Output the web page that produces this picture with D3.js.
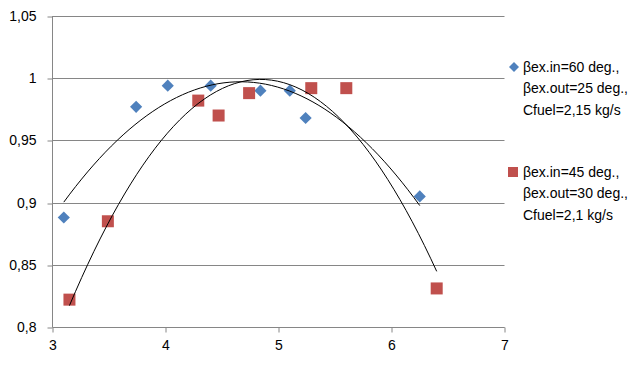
<!DOCTYPE html>
<html><head><meta charset="utf-8">
<script src="https://cdn.jsdelivr.net/npm/d3@7"></script>
<style>body{margin:0;background:#fff}svg{display:block}</style>
</head><body>
<svg id="c" width="644" height="367"></svg>
<script>
const xTicks = [3, 4, 5, 6, 7];
const yTicks = [0.8, 0.85, 0.9, 0.95, 1, 1.05];
const yTickLabels = ["0,8", "0,85", "0,9", "0,95", "1", "1,05"];

const s1x = [3.10, 3.74, 4.02, 4.40, 4.84, 5.10, 5.24, 6.25];
const s1y = [0.888, 0.977, 0.994, 0.994, 0.990, 0.990, 0.968, 0.905];
const s2x = [3.15, 3.49, 4.29, 4.47, 4.74, 5.29, 5.60, 6.40];
const s2y = [0.822, 0.885, 0.982, 0.970, 0.988, 0.992, 0.992, 0.831];

const legend1 = ["βex.in=60 deg.,", "βex.out=25 deg.,", "Cfuel=2,15 kg/s"];
const legend2 = ["βex.in=45 deg.,", "βex.out=30 deg.,", "Cfuel=2,1 kg/s"];

const blue = "#4F81BD", red = "#C0504D", grid = "#868686";
const font = "'Liberation Sans', Arial, sans-serif";

const svg = d3.select("#c");
const x = d3.scaleLinear().domain([3, 7]).range([52.5, 504.5]);
const y = d3.scaleLinear().domain([0.8, 1.05]).range([327, 16]);

// gridlines
svg.append("g").selectAll("line").data(yTicks).join("line")
  .attr("x1", x(3)).attr("x2", x(7))
  .attr("y1", d => Math.round(y(d)) + 0.5).attr("y2", d => Math.round(y(d)) + 0.5)
  .attr("stroke", grid).attr("stroke-width", 1);

// y axis
const ya = svg.append("g").attr("transform", `translate(${x(3)},0)`);
ya.call(d3.axisLeft(y).tickValues(yTicks).tickFormat((d, i) => yTickLabels[i]).tickSize(5).tickPadding(11));
ya.select(".domain").attr("stroke", grid).attr("d", `M0,${y(1.05)}V${y(0.8)}`);
ya.selectAll(".tick line").attr("stroke", grid).attr("transform", d => `translate(0,${Math.round(y(d)) + 0.5 - y(d)})`);
ya.selectAll(".tick text").attr("font-family", font).attr("font-size", 14).attr("fill", "#000");

// x axis
const xa = svg.append("g").attr("transform", `translate(0,${Math.round(y(0.8)) + 0.5})`);
xa.call(d3.axisBottom(x).tickValues(xTicks).tickFormat(d3.format("d")).tickSize(5).tickPadding(8));
xa.select(".domain").attr("stroke", grid).attr("d", `M${x(3)},0H${x(7)}`);
xa.selectAll(".tick line").attr("stroke", grid);
xa.selectAll(".tick text").attr("font-family", font).attr("font-size", 14).attr("fill", "#000");

// quadratic least squares fit (trendline)
function quadFit(xs, ys) {
  const n = xs.length;
  let S = [0,0,0,0,0], T = [0,0,0];
  for (let i = 0; i < n; i++) {
    for (let k = 0; k < 5; k++) S[k] += Math.pow(xs[i], k);
    for (let k = 0; k < 3; k++) T[k] += ys[i] * Math.pow(xs[i], k);
  }
  const A = [[S[0],S[1],S[2],T[0]],[S[1],S[2],S[3],T[1]],[S[2],S[3],S[4],T[2]]];
  for (let c = 0; c < 3; c++) {
    for (let r = c + 1; r < 3; r++) {
      const f = A[r][c] / A[c][c];
      for (let k = c; k < 4; k++) A[r][k] -= f * A[c][k];
    }
  }
  const b = [0,0,0];
  for (let r = 2; r >= 0; r--) {
    let s = A[r][3];
    for (let k = r + 1; k < 3; k++) s -= A[r][k] * b[k];
    b[r] = s / A[r][r];
  }
  return v => b[0] + b[1] * v + b[2] * v * v;
}

function trend(xs, ys) {
  const f = quadFit(xs, ys);
  const lo = d3.min(xs), hi = d3.max(xs);
  const pts = d3.range(0, 61).map(i => { const v = lo + (hi - lo) * i / 60; return [v, f(v)]; });
  svg.append("path").datum(pts)
    .attr("d", d3.line().x(d => x(d[0])).y(d => y(d[1])))
    .attr("fill", "none").attr("stroke", "#000").attr("stroke-width", 1);
}

// markers
const diamond = d3.symbol().type(d3.symbolSquare).size(74);
svg.append("g").selectAll("path").data(s1x.map((v, i) => [v, s1y[i]])).join("path")
  .attr("d", diamond)
  .attr("transform", d => `translate(${x(d[0])},${y(d[1])}) rotate(45)`)
  .attr("fill", blue);
svg.append("g").selectAll("rect").data(s2x.map((v, i) => [v, s2y[i]])).join("rect")
  .attr("x", d => x(d[0]) - 6).attr("y", d => y(d[1]) - 6)
  .attr("width", 12).attr("height", 12).attr("fill", red);

trend(s1x, s1y);
trend(s2x, s2y);

// legend
function legendBlock(lines, y0, kind, color) {
  const g = svg.append("g");
  if (kind === "diamond") {
    g.append("path").attr("d", d3.symbol().type(d3.symbolSquare).size(50))
      .attr("transform", `translate(514,${y0}) rotate(45)`).attr("fill", color);
  } else {
    g.append("rect").attr("x", 508).attr("y", y0 - 5).attr("width", 10).attr("height", 10).attr("fill", color);
  }
  g.selectAll("text").data(lines).join("text")
    .attr("x", 523).attr("y", (d, i) => y0 + i * 21.5)
    .attr("dy", "0.35em")
    .attr("font-family", font).attr("font-size", 14).attr("fill", "#000")
    .text(d => d);
}
legendBlock(legend1, 67, "diamond", blue);
legendBlock(legend2, 172, "square", red);
</script>
</body></html>
